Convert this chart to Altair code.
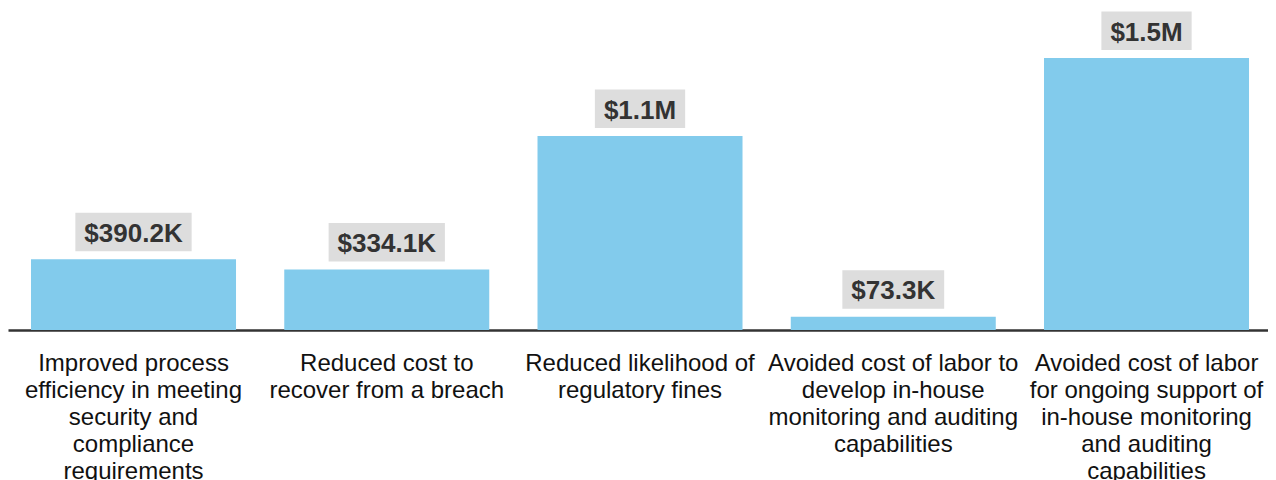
import altair as alt
import pandas as pd

categories = [
    "Improved process\nefficiency in meeting\nsecurity and\ncompliance\nrequirements",
    "Reduced cost to\nrecover from a breach",
    "Reduced likelihood of\nregulatory fines",
    "Avoided cost of labor to\ndevelop in-house\nmonitoring and auditing\ncapabilities",
    "Avoided cost of labor\nfor ongoing support of\nin-house monitoring\nand auditing\ncapabilities",
]
values = [390200, 334100, 1069000, 73300, 1499000]
value_labels = ["$390.2K", "$334.1K", "$1.1M", "$73.3K", "$1.5M"]

FONT = "Liberation Sans"
LABEL_SIZE = 26

# approximate bold Arial glyph widths (em) to size the label backgrounds
_w = {"$": 0.556, ".": 0.278, "K": 0.722, "M": 0.833}


def box_width(s):
    return sum(_w.get(c, 0.556) for c in s) * LABEL_SIZE + 18


df = pd.DataFrame({
    "category": categories,
    "value": values,
    "label": value_labels,
    "boxw": [box_width(s) for s in value_labels],
})

x = alt.X(
    "category:N",
    sort=categories,
    scale=alt.Scale(paddingInner=0.1905, paddingOuter=0.0829, align=0.548),
    axis=alt.Axis(
        title=None,
        labelAngle=0,
        ticks=False,
        domain=True,
        domainColor="#333333",
        domainWidth=2.7,
        labelFont=FONT,
        labelFontSize=24,
        labelColor="#111111",
        labelLineHeight=27,
        labelPadding=21,
        labelLimit=0,
        labelBaseline="top",
        labelExpr="split(datum.label, '\\n')",
    ),
)
y = alt.Y("value:Q", scale=alt.Scale(domain=[0, 1775000]), axis=None)

bars = alt.Chart(df).mark_bar(color="#82CBEC").encode(x=x, y=y)

boxes = alt.Chart(df).mark_bar(color="#DDDDDD", yOffset=-8, y2Offset=-46.5).encode(
    x=x,
    y=y,
    y2=alt.Y2("value:Q"),
    size=alt.Size("boxw:Q", scale=None, legend=None),
)

texts = alt.Chart(df).mark_text(
    font=FONT,
    fontSize=LABEL_SIZE,
    fontWeight="bold",
    color="#333333",
    baseline="alphabetic",
    dy=-17.5,
).encode(x=x, y=y, text="label:N")

chart = (
    alt.layer(bars, boxes, texts)
    .properties(
        width=1260,
        height=322,
        autosize=alt.AutoSizeParams(type="none"),
        padding={"left": 0, "top": 0, "right": 0, "bottom": 150},
    )
    .configure_view(stroke=None)
)

chart.save("out.html", embed_options={"renderer": "svg", "actions": False})
